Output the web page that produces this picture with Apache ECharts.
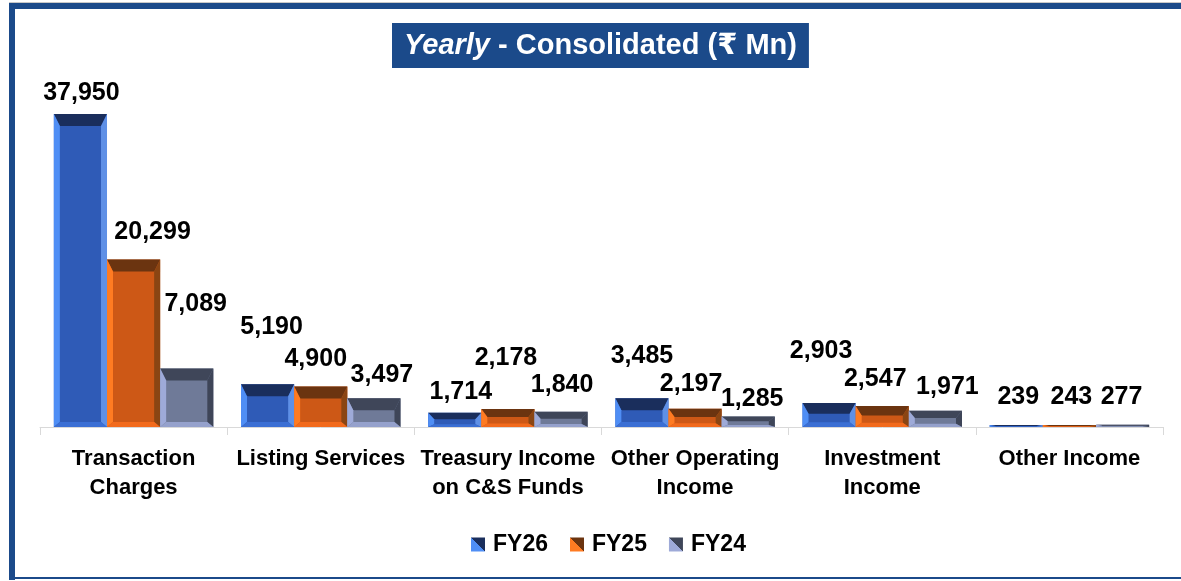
<!DOCTYPE html>
<html lang="en">
<head>
<meta charset="UTF-8">
<title>Yearly - Consolidated</title>
<script src="https://cdn.jsdelivr.net/npm/echarts@6/dist/echarts.min.js"></script>
<style>
  html,body{margin:0;padding:0;background:#fff;}
  #main{width:1181px;height:581px;}
</style>
</head>
<body>
<div id="main"></div>
<script>
// categories and values (₹ Mn)
var categories = ['Transaction\nCharges', 'Listing Services', 'Treasury Income\non C&S Funds',
                  'Other Operating\nIncome', 'Investment\nIncome', 'Other Income'];
var fy26 = [37950, 5190, 1714, 3485, 2903, 239];
var fy25 = [20299, 4900, 2178, 2197, 2547, 243];
var fy24 = [7089, 3497, 1840, 1285, 1971, 277];

// manual label nudges [dx, dy] like in the original deck
var shift26 = [[1, -5], [4, -41], [6, -5], [0, -26], [-8, -36], [2, -12]];
var shift25 = [[19, -11], [-5, -11], [-2, -35], [-4, -9], [-7, -11], [2, -12]];
var shift24 = [[9, -48], [8, -7], [1, -11], [4, -1], [12, -8], [-1, -12]];

var NAVY = '#1b4a8a';
var FONT = '"Liberation Sans", Arial, "DejaVu Sans", sans-serif';

var palettes = [
    {face: '#2f5bb7', top: '#1a2e5c', left: '#4f8ef5', right: '#5f90e6', bottom: '#3b6fd4'},
    {face: '#cd5816', top: '#6b3410', left: '#ff7b22', right: '#8a4513', bottom: '#f26a1c'},
    {face: '#6f7a98', top: '#3f4659', left: '#9eaad8', right: '#3e4558', bottom: '#95a1cc'}
];

function fmt(v) {
    return v.toString().replace(/\B(?=(\d{3})+(?!\d))/g, ',');
}

function bevelBar(idx, pal, shifts) {
    return function (params, api) {
        var ci = api.value(0), v = api.value(1);
        var topPt = api.coord([ci, v]);
        var basePt = api.coord([ci, 0]);
        var band = api.size([1, 0])[0];
        var w = band * 0.852 / 3;
        var x0 = topPt[0] - 1.5 * w + idx * w;
        var x1 = x0 + w;
        var y0 = topPt[1], y1 = basePt[1];
        var h = y1 - y0;
        var bs = Math.min(6, w / 2);
        var bt = Math.min(12, h * 0.45);
        var bb = Math.min(5, h * 0.2);
        var sh = shifts[params.dataIndex];
        return {
            type: 'group',
            children: [
                {type: 'rect', shape: {x: x0, y: y0, width: w, height: h}, style: {fill: pal.face}},
                {type: 'polygon', shape: {points: [[x0, y0], [x1, y0], [x1 - bs, y0 + bt], [x0 + bs, y0 + bt]]}, style: {fill: pal.top}},
                {type: 'polygon', shape: {points: [[x0, y0], [x0 + bs, y0 + bt], [x0 + bs, y1 - bb], [x0, y1]]}, style: {fill: pal.left}},
                {type: 'polygon', shape: {points: [[x1, y0], [x1, y1], [x1 - bs, y1 - bb], [x1 - bs, y0 + bt]]}, style: {fill: pal.right}},
                {type: 'polygon', shape: {points: [[x0, y1], [x0 + bs, y1 - bb], [x1 - bs, y1 - bb], [x1, y1]]}, style: {fill: pal.bottom}},
                {type: 'text', x: (x0 + x1) / 2 + sh[0], y: y0 - 16 + sh[1],
                 style: {text: fmt(v), fill: '#000', font: 'bold 25px ' + FONT, align: 'center', verticalAlign: 'middle'}}
            ]
        };
    };
}

function toData(arr) {
    return arr.map(function (v, i) { return [i, v]; });
}

function iconGrad(light, dark) {
    return new echarts.graphic.LinearGradient(0, 1, 1, 0, [
        {offset: 0, color: light}, {offset: 0.5, color: light},
        {offset: 0.5, color: dark}, {offset: 1, color: dark}
    ]);
}

var myChart = echarts.init(document.getElementById('main'));
var option = {
    animation: false,
    backgroundColor: '#fff',
    title: {
        text: '{i|Yearly}{n| - Consolidated (₹ Mn)}',
        left: 392, top: 22,
        backgroundColor: NAVY,
        padding: [8, 12, 8, 12],
        textStyle: {
            rich: {
                i: {fontFamily: FONT, fontSize: 29, lineHeight: 31, fontWeight: 'bold', fontStyle: 'italic', color: '#fff'},
                n: {fontFamily: FONT, fontSize: 29, lineHeight: 31, fontWeight: 'bold', color: '#fff'}
            }
        }
    },
    graphic: [
        {type: 'rect', shape: {x: 9, y: 2, width: 1172, height: 1}, style: {fill: '#c8c8c8'}},
        {type: 'rect', shape: {x: 9, y: 3, width: 1172, height: 6}, style: {fill: NAVY}},
        {type: 'rect', shape: {x: 9, y: 3, width: 6, height: 577}, style: {fill: NAVY}},
        {type: 'rect', shape: {x: 9, y: 577, width: 1172, height: 2}, style: {fill: NAVY}}
    ],
    legend: {
        left: 466, top: 528,
        icon: 'rect',
        itemWidth: 14, itemHeight: 14, itemGap: 22,
        textStyle: {fontFamily: FONT, fontSize: 23, fontWeight: 'bold', color: '#000', padding: [0, 0, 0, 3]},
        data: [
            {name: 'FY26', itemStyle: {color: iconGrad('#4f8ef5', '#1a2e5c')}},
            {name: 'FY25', itemStyle: {color: iconGrad('#ff7b22', '#6b3410')}},
            {name: 'FY24', itemStyle: {color: iconGrad('#9eaad8', '#3f4659')}}
        ]
    },
    grid: {left: 40, right: 18, top: 97, bottom: 154},
    xAxis: {
        type: 'category',
        data: categories,
        axisLine: {lineStyle: {color: '#d9d9d9', width: 1}},
        axisTick: {show: true, length: 8, lineStyle: {color: '#d9d9d9'}},
        axisLabel: {interval: 0, margin: 17, fontFamily: FONT, fontSize: 22, fontWeight: 'bold',
                    color: '#000', lineHeight: 29}
    },
    yAxis: {type: 'value', min: 0, max: 40000, show: false, splitLine: {show: false}},
    series: [
        {name: 'FY26', type: 'custom', clip: false, renderItem: bevelBar(0, palettes[0], shift26),
         itemStyle: {color: palettes[0].face}, encode: {x: 0, y: 1}, data: toData(fy26)},
        {name: 'FY25', type: 'custom', clip: false, renderItem: bevelBar(1, palettes[1], shift25),
         itemStyle: {color: palettes[1].face}, encode: {x: 0, y: 1}, data: toData(fy25)},
        {name: 'FY24', type: 'custom', clip: false, renderItem: bevelBar(2, palettes[2], shift24),
         itemStyle: {color: palettes[2].face}, encode: {x: 0, y: 1}, data: toData(fy24)}
    ]
};
myChart.setOption(option);
</script>
</body>
</html>
